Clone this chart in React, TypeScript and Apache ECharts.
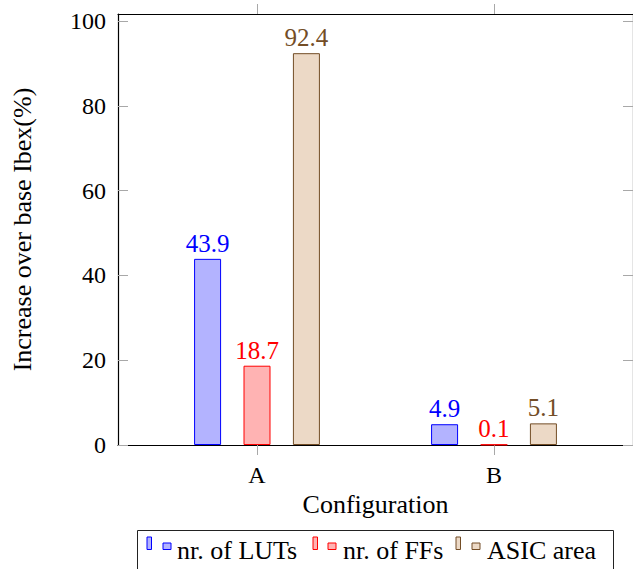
import React, { useEffect, useRef } from "react";
import * as echarts from "echarts";

const categories = ["A", "B"];
const lutValues = [43.9, 4.9];
const ffValues = [18.7, 0.1];
const asicValues = [92.4, 5.1];
const yTicks = [0, 20, 40, 60, 80, 100];
const seriesNames = ["nr. of LUTs", "nr. of FFs", "ASIC area"];

const FONT = "'Liberation Serif', 'Times New Roman', Times, serif";
const TICK = "#a8a8a8";

const colors = [
  { fill: "#b3b3ff", stroke: "#0000ff" },
  { fill: "#ffb3b3", stroke: "#ff0000" },
  { fill: "#ecd9c6", stroke: "#734d26" },
];

export default function App() {
  const ref = useRef<HTMLDivElement>(null);
  useEffect(() => {
    if (!ref.current) return;
    const chart = echarts.init(ref.current, null, { renderer: "svg" });
    const catIdx = categories.map((_, i) => i);
    const allValues = [lutValues, ffValues, asicValues];
    const maxVal = Math.max(...asicValues, ...lutValues, ...ffValues);
    const yMax = maxVal * 1.1;
    const xMin = -0.5865;
    const xMax = 1.5865;

    const series = allValues.map((vals, s) => ({
      type: "bar",
      name: seriesNames[s],
      xAxisIndex: 0,
      yAxisIndex: 0,
      data: vals.map((v, i) => [catIdx[i], v]),
      barWidth: 27,
      barGap: "83%",
      itemStyle: { color: colors[s].fill, borderColor: colors[s].stroke, borderWidth: 1 },
      label: {
        show: true,
        position: "top",
        distance: 3,
        fontFamily: FONT,
        fontSize: 25,
        color: colors[s].stroke,
        formatter: (p: any) => Number(p.value[1]).toFixed(1),
      },
    }));

    const legendItems = [
      { x1: 147, x2: 163, tx: 177 },
      { x1: 313, x2: 328, tx: 343 },
      { x1: 456, x2: 472, tx: 487 },
    ];
    const legendChildren: any[] = [
      {
        type: "rect",
        shape: { x: 137.5, y: 530.5, width: 476, height: 50 },
        style: { fill: "#fff", stroke: "#222", lineWidth: 1 },
      },
    ];
    legendItems.forEach((it, s) => {
      legendChildren.push({
        type: "rect",
        shape: { x: it.x1, y: 537, width: 4.5, height: 12.5 },
        style: { fill: colors[s].fill, stroke: colors[s].stroke, lineWidth: 1 },
      });
      legendChildren.push({
        type: "rect",
        shape: { x: it.x2, y: 543, width: 8, height: 6.5 },
        style: { fill: colors[s].fill, stroke: colors[s].stroke, lineWidth: 1 },
      });
      legendChildren.push({
        type: "text",
        x: it.tx,
        y: 550,
        style: {
          text: seriesNames[s],
          fontFamily: FONT,
          fontSize: 26,
          fill: "#000",
          align: "left",
          verticalAlign: "middle",
        },
      });
    });

    const lineStyle = { color: "#000", width: 1.2 };
    chart.setOption({
      animation: false,
      backgroundColor: "#fff",
      textStyle: { fontFamily: FONT },
      grid: { left: 118, top: 14, right: 0, bottom: 124, containLabel: false },
      xAxis: [
        {
          type: "value",
          position: "bottom",
          min: xMin,
          max: xMax,
          axisLine: { show: true, onZero: false, lineStyle },
          axisTick: { show: true, inside: false, length: 10, customValues: catIdx, lineStyle: { color: TICK, width: 1 } },
          axisLabel: {
            customValues: catIdx,
            formatter: (v: number) => categories[Math.round(v)] ?? "",
            fontFamily: FONT,
            fontSize: 24,
            color: "#000",
            margin: 18,
          },
          splitLine: { show: false },
          name: "Configuration",
          nameLocation: "middle",
          nameGap: 46,
          nameTextStyle: { fontFamily: FONT, fontSize: 26, color: "#000" },
        },
        {
          type: "value",
          position: "top",
          min: xMin,
          max: xMax,
          axisLine: { show: true, onZero: false, lineStyle },
          axisTick: { show: true, inside: false, length: 10, customValues: catIdx, lineStyle: { color: TICK, width: 1 } },
          axisLabel: { show: false },
          splitLine: { show: false },
        },
      ],
      yAxis: [
        {
          type: "value",
          position: "left",
          min: 0,
          max: yMax,
          axisLine: { show: true, onZero: false, lineStyle },
          axisTick: { show: true, inside: true, length: 10, customValues: yTicks, lineStyle: { color: TICK, width: 1 } },
          axisLabel: {
            customValues: yTicks,
            fontFamily: FONT,
            fontSize: 24,
            color: "#000",
            margin: 12,
          },
          splitLine: { show: false },
          name: "Increase over base Ibex(%)",
          nameLocation: "middle",
          nameGap: 83,
          nameTextStyle: { fontFamily: FONT, fontSize: 26, color: "#000" },
        },
        {
          type: "value",
          position: "right",
          min: 0,
          max: yMax,
          axisLine: { show: true, onZero: false, lineStyle },
          axisTick: { show: true, inside: true, length: 10, customValues: yTicks, lineStyle: { color: TICK, width: 1 } },
          axisLabel: { show: false },
          splitLine: { show: false },
        },
      ],
      series,
      graphic: [{ type: "group", children: legendChildren }],
    });
    return () => chart.dispose();
  }, []);
  return <div ref={ref} style={{ width: 633, height: 569, position: "absolute", left: 0, top: 0 }} />;
}
